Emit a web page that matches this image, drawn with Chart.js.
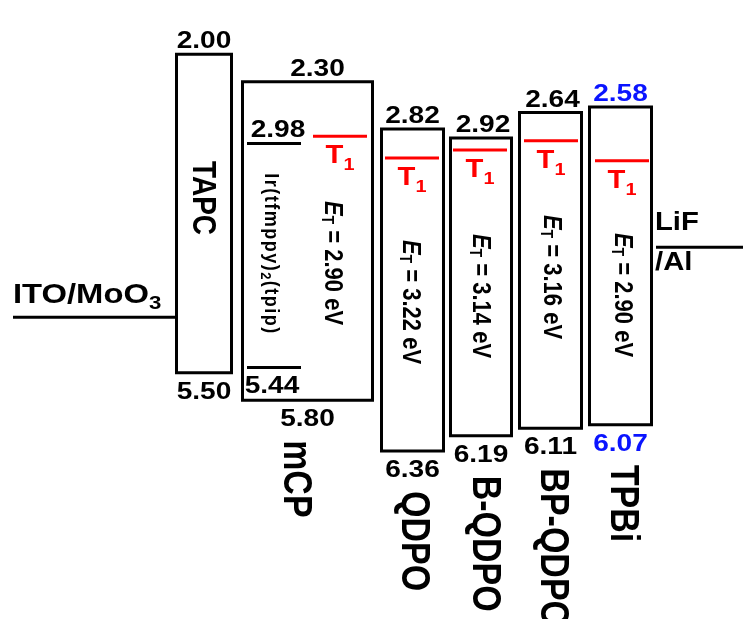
<!DOCTYPE html>
<html>
<head>
<meta charset="utf-8">
<script src="https://cdn.jsdelivr.net/npm/chart.js@4.4.0/dist/chart.umd.min.js"></script>
<style>
  html, body { margin: 0; padding: 0; background: #fff; }
  #wrap { width: 743px; height: 619px; position: relative; }
</style>
</head>
<body>
<div id="wrap"><canvas id="niveaux"></canvas></div>
<script>
// valeurs (eV)
const materials = ['TAPC', 'mCP', 'QDPO', 'B-QDPO', 'BP-QDPO', 'TPBi'];
const lumo = [2.00, 2.30, 2.82, 2.92, 2.64, 2.58];
const homo = [5.50, 5.80, 6.36, 6.19, 6.11, 6.07];
const tripletEnergy = [null, 2.90, 3.22, 3.14, 3.16, 2.90];
const dopantLevels = [2.98, 5.44];
const electrodeLevels = [4.89, 4.12]; // ITO/MoO3, LiF/Al (non chiffrés, estimés)

// mise en page (unités de l'axe x)
const boxLeft = [176.5, 242.5, 381.5, 450.5, 519.5, 589.5];
const boxRight = [231.5, 372.5, 443.5, 511.5, 581.5, 651.5];
const t1Left = [null, 313, 385, 453, 524, 595];
const t1Right = [null, 367, 439, 507, 578, 649];
const topShift = [0, 10, 0, 2, 2, 0];
const nameX = [202, 295, 413, 484, 552, 622];
const etY = [null, 263, 302, 296, 277, 295];
const etX = [null, 332, 410, 480, 551, 622];

const FONT = "'Liberation Sans', Arial, sans-serif";
const SX = 1.17;
const BLUE = '#0a14ff';
const RED = '#ff0000';

const datasets = [];
function seg(pts, color) {
  datasets.push({
    data: pts, borderColor: color, borderWidth: 3, pointRadius: 0,
    fill: false, tension: 0, clip: false,
    borderJoinStyle: 'miter', borderCapStyle: 'square'
  });
}
materials.forEach((m, i) => {
  seg([
    { x: boxLeft[i], y: lumo[i] }, { x: boxRight[i], y: lumo[i] },
    { x: boxRight[i], y: homo[i] }, { x: boxLeft[i], y: homo[i] },
    { x: boxLeft[i], y: lumo[i] }
  ], '#000');
  if (tripletEnergy[i] != null) {
    const t1 = homo[i] - tripletEnergy[i];
    datasets.push({
      data: [{ x: t1Left[i], y: t1 }, { x: t1Right[i], y: t1 }],
      borderColor: RED, borderWidth: 3, pointRadius: 0, fill: false, clip: false
    });
  }
});
dopantLevels.forEach(v => {
  datasets.push({
    data: [{ x: 247, y: v }, { x: 301, y: v }],
    borderColor: '#000', borderWidth: 3, pointRadius: 0, fill: false, clip: false
  });
});
datasets.push({ data: [{ x: 13, y: electrodeLevels[0] }, { x: 176.5, y: electrodeLevels[0] }],
  borderColor: '#000', borderWidth: 3, pointRadius: 0, fill: false, clip: false });
datasets.push({ data: [{ x: 656, y: electrodeLevels[1] }, { x: 743, y: electrodeLevels[1] }],
  borderColor: '#000', borderWidth: 3, pointRadius: 0, fill: false, clip: false });

function drawRich(ctx, x, y, parts, o) {
  ctx.save();
  ctx.translate(x, y);
  ctx.scale(SX, 1);
  if (o.rotate) ctx.rotate(Math.PI / 2);
  ctx.textAlign = 'left';
  ctx.textBaseline = o.baseline || 'alphabetic';
  if (o.spacing) ctx.letterSpacing = o.spacing;
  let w = 0;
  parts.forEach(p => { ctx.font = p.font; w += ctx.measureText(p.t).width; });
  let cx = o.align === 'center' ? -w / 2 : 0;
  parts.forEach(p => {
    ctx.font = p.font;
    ctx.fillStyle = p.color || o.color || '#000';
    ctx.fillText(p.t, cx, p.dy || 0);
    cx += ctx.measureText(p.t).width;
  });
  ctx.restore();
}

const labels = {
  id: 'labels',
  afterDatasetsDraw(chart) {
    const { ctx, scales: { x, y } } = chart;
    const b24 = 'bold 24px ' + FONT;
    materials.forEach((m, i) => {
      const cx = x.getPixelForValue((boxLeft[i] + boxRight[i]) / 2);
      const col = m === 'TPBi' ? BLUE : '#000';
      drawRich(ctx, cx + topShift[i], y.getPixelForValue(lumo[i]) - 6,
        [{ t: lumo[i].toFixed(2), font: b24 }], { align: 'center', color: col });
      const yb = y.getPixelForValue(homo[i]) + 26;
      drawRich(ctx, cx, yb, [{ t: homo[i].toFixed(2), font: b24 }], { align: 'center', color: col });
      if (i === 0) {
        drawRich(ctx, nameX[i], 198, [{ t: m, font: 'bold 28px ' + FONT }],
          { rotate: true, align: 'center', baseline: 'middle' });
      } else {
        drawRich(ctx, nameX[i], yb + 14, [{ t: m, font: 'bold 34px ' + FONT }],
          { rotate: true, baseline: 'middle' });
        // T1
        const t1 = homo[i] - tripletEnergy[i];
        const tx = x.getPixelForValue((t1Left[i] + t1Right[i]) / 2);
        drawRich(ctx, tx, y.getPixelForValue(t1) + 27, [
          { t: 'T', font: 'bold 25px ' + FONT },
          { t: '1', font: 'bold 17px ' + FONT, dy: 7 }
        ], { align: 'center', color: RED });
        // E_T
        drawRich(ctx, etX[i], etY[i], [
          { t: 'E', font: 'italic bold 22px ' + FONT },
          { t: 'T', font: 'bold 14px ' + FONT, dy: 5 },
          { t: ' = ' + tripletEnergy[i].toFixed(2) + ' eV', font: 'bold 22px ' + FONT }
        ], { rotate: true, align: 'center', baseline: 'middle' });
      }
    });
    // dopant
    drawRich(ctx, 278, y.getPixelForValue(dopantLevels[0]) - 7,
      [{ t: dopantLevels[0].toFixed(2), font: b24 }], { align: 'center' });
    drawRich(ctx, 272, y.getPixelForValue(dopantLevels[1]) + 26,
      [{ t: dopantLevels[1].toFixed(2), font: b24 }], { align: 'center' });
    drawRich(ctx, 271, 254, [
      { t: 'Ir(tfmppy)', font: 'bold 18px ' + FONT },
      { t: '2', font: 'bold 13px ' + FONT, dy: 5 },
      { t: '(tpip)', font: 'bold 18px ' + FONT }
    ], { rotate: true, align: 'center', baseline: 'middle', spacing: '1.5px' });
    // électrodes
    const yi = y.getPixelForValue(electrodeLevels[0]);
    drawRich(ctx, 13, yi - 14, [
      { t: 'ITO/MoO', font: 'bold 28px ' + FONT },
      { t: '3', font: 'bold 19px ' + FONT, dy: 6 }
    ], {});
    const yl = y.getPixelForValue(electrodeLevels[1]);
    drawRich(ctx, 655, yl - 17, [{ t: 'LiF', font: 'bold 25px ' + FONT }], {});
    drawRich(ctx, 655, yl + 23, [{ t: '/Al', font: 'bold 25px ' + FONT }], {});
  }
};

const config = {
  type: 'line',
  data: { datasets: datasets },
  options: {
    responsive: true,
    maintainAspectRatio: false,
    animation: false,
    layout: { padding: 0 },
    plugins: { legend: { display: false }, tooltip: { enabled: false } },
    scales: {
      x: { type: 'linear', min: 0, max: 743, display: false },
      y: { type: 'linear', min: 1.403, max: 8.205, reverse: true, display: false }
    }
  },
  plugins: [labels]
};

new Chart(document.getElementById('niveaux').getContext('2d'), config);
</script>
</body>
</html>
